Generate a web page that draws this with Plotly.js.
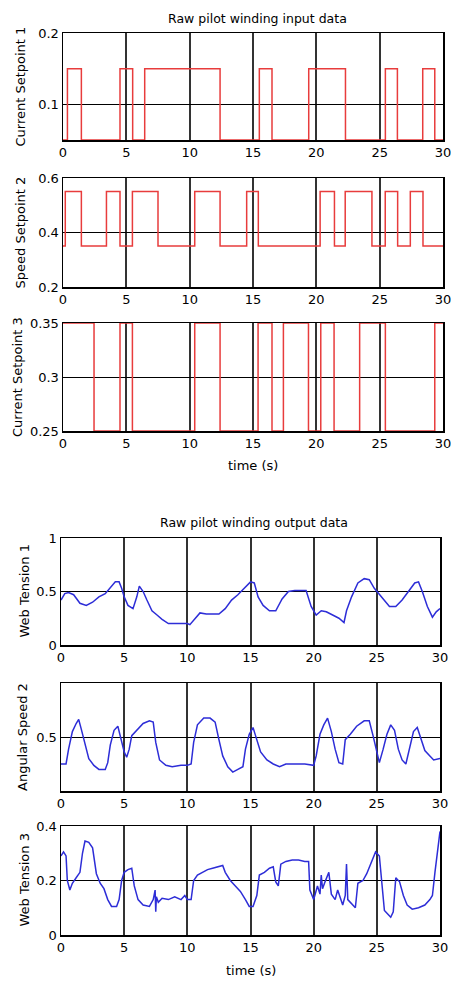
<!DOCTYPE html>
<html>
<head>
<meta charset="utf-8">
<script src="https://cdn.plot.ly/plotly-3.0.1.min.js"></script>
<style>
html,body{margin:0;padding:0;background:#fff;}
#chart{width:451px;height:981px;}
</style>
</head>
<body>
<div id="chart"></div>
<script>
// ---- Input data (step signals: switch times and held values) ----
const cs1Times  = [0, 0.35, 1.45, 4.5, 5.5, 6.45, 12.4, 15.5, 16.5, 19.4, 22.3, 25.45, 26.4, 28.4, 29.35, 30];
const cs1Values = [0.05, 0.15, 0.05, 0.15, 0.05, 0.15, 0.05, 0.15, 0.05, 0.15, 0.05, 0.15, 0.05, 0.15, 0.05, 0.05];

const ss2Times  = [0, 0.18, 1.45, 3.43, 4.5, 5.48, 7.5, 10.4, 12.4, 14.5, 15.42, 20.3, 21.43, 22.28, 24.39, 25.44, 26.42, 27.42, 28.42, 30];
const ss2Values = [0.35, 0.55, 0.35, 0.55, 0.35, 0.55, 0.35, 0.55, 0.35, 0.55, 0.35, 0.55, 0.35, 0.55, 0.35, 0.55, 0.35, 0.55, 0.35, 0.35];

const cs3Times  = [0, 2.45, 4.5, 5.48, 10.4, 12.4, 15.4, 16.5, 17.4, 19.38, 20.35, 21.4, 23.42, 25.45, 29.35, 30];
const cs3Values = [0.35, 0.25, 0.35, 0.25, 0.35, 0.25, 0.35, 0.25, 0.35, 0.25, 0.35, 0.25, 0.35, 0.25, 0.35, 0.35];

// ---- Output data ----
const wt1Times  = [0,0.3,0.6,1,1.5,2,2.5,3,3.5,4,4.3,4.6,4.8,5,5.3,5.7,6,6.2,6.5,6.8,7.2,7.6,8,8.5,9,9.5,10,10.2,10.6,11,11.5,12,12.5,13,13.5,14,14.5,15,15.3,15.6,16,16.5,17,17.5,18,18.5,19,19.4,19.8,20.2,20.6,21,21.5,22,22.4,22.6,23,23.5,24,24.4,24.8,25.2,25.5,26,26.5,27,27.5,28,28.3,28.6,29,29.4,29.7,30];
const wt1Values = [0.42,0.48,0.49,0.47,0.39,0.37,0.40,0.45,0.48,0.55,0.59,0.59,0.53,0.45,0.37,0.34,0.45,0.55,0.50,0.42,0.32,0.28,0.24,0.20,0.20,0.20,0.20,0.19,0.25,0.30,0.29,0.29,0.29,0.34,0.42,0.47,0.53,0.59,0.58,0.45,0.37,0.32,0.32,0.43,0.50,0.51,0.51,0.51,0.36,0.28,0.32,0.31,0.28,0.25,0.21,0.32,0.45,0.58,0.62,0.61,0.53,0.47,0.43,0.36,0.36,0.42,0.50,0.58,0.59,0.50,0.36,0.26,0.31,0.34];

const as2Times  = [0,0.4,0.6,0.9,1.2,1.4,1.6,1.9,2.2,2.6,3,3.5,3.7,3.9,4.2,4.5,4.7,5,5.2,5.4,5.6,6,6.5,7,7.3,7.5,7.8,8.3,8.8,9.5,10,10.3,10.5,10.8,11.3,11.8,12.2,12.5,12.8,13.2,13.6,14,14.4,14.6,14.9,15.2,15.4,15.8,16.3,16.8,17.3,17.8,18.5,19.3,20,20.2,20.5,20.8,21.1,21.4,21.7,22,22.3,22.5,22.9,23.4,24,24.4,24.7,25,25.2,25.5,25.8,26.1,26.4,26.7,27,27.3,27.6,27.9,28.2,28.5,28.8,29.2,29.5,30];
const as2Values = [0.30,0.30,0.41,0.54,0.60,0.63,0.56,0.44,0.34,0.29,0.26,0.26,0.31,0.44,0.55,0.58,0.51,0.39,0.35,0.41,0.51,0.55,0.60,0.62,0.61,0.46,0.33,0.29,0.28,0.29,0.29,0.30,0.46,0.59,0.64,0.64,0.61,0.48,0.36,0.28,0.24,0.26,0.28,0.41,0.52,0.57,0.51,0.39,0.33,0.30,0.28,0.30,0.30,0.30,0.29,0.36,0.52,0.59,0.64,0.54,0.41,0.31,0.30,0.48,0.52,0.58,0.62,0.62,0.51,0.39,0.31,0.41,0.52,0.59,0.55,0.41,0.33,0.30,0.41,0.54,0.57,0.48,0.40,0.36,0.33,0.34];

const wt3Times  = [0,0.2,0.4,0.5,0.7,0.9,1.2,1.5,1.7,1.9,2.2,2.5,2.8,3.1,3.4,3.7,4,4.4,4.6,4.8,5,5.3,5.6,5.8,6.1,6.5,7,7.3,7.45,7.5,7.55,7.7,8,8.5,9,9.5,9.8,10,10.3,10.5,10.8,11.2,11.6,12,12.4,12.8,13,13.4,13.8,14.2,14.6,14.9,15.2,15.5,15.7,16.1,16.5,16.8,17,17.2,17.4,17.8,18.3,18.8,19.3,19.6,19.7,20,20.3,20.5,20.6,20.7,20.9,21.2,21.4,21.7,21.9,22.1,22.3,22.5,22.6,22.7,23,23.3,23.5,23.9,24.2,24.6,24.9,25.2,25.4,25.6,25.9,26.1,26.3,26.5,26.8,27.1,27.4,27.8,28.3,28.8,29.2,29.4,29.6,29.8,30];
const wt3Values = [0.29,0.305,0.29,0.20,0.165,0.19,0.21,0.23,0.30,0.345,0.34,0.32,0.225,0.19,0.17,0.13,0.105,0.105,0.13,0.20,0.23,0.24,0.245,0.18,0.13,0.11,0.105,0.13,0.165,0.085,0.14,0.12,0.135,0.13,0.14,0.13,0.145,0.13,0.13,0.20,0.22,0.23,0.24,0.245,0.25,0.255,0.23,0.20,0.18,0.16,0.13,0.105,0.105,0.145,0.22,0.23,0.245,0.25,0.195,0.18,0.26,0.27,0.275,0.275,0.27,0.27,0.165,0.13,0.18,0.15,0.22,0.17,0.195,0.23,0.15,0.13,0.165,0.14,0.11,0.145,0.26,0.13,0.115,0.10,0.19,0.20,0.225,0.27,0.305,0.29,0.20,0.09,0.075,0.065,0.085,0.21,0.195,0.145,0.11,0.095,0.10,0.11,0.13,0.145,0.23,0.30,0.38];

const xTickVals = [0, 5, 10, 15, 20, 25, 30];

// ---- Layout ----
const W = 451, H = 981;
const FONT = "DejaVu Sans, Liberation Sans, Arial, sans-serif";
function yd(top, bottom){ return [1 - bottom/H, 1 - top/H]; }
function xd(l, r){ return [l/W, r/W]; }

const panels = [
  {x: cs1Times, y: cs1Values, color: 'rgb(232,60,60)', shape: 'hv', xdom: xd(63,443), ydom: yd(33,140), range: [0.05,0.2], tv: [0.1,0.2], tt: ['0.1','0.2'], label: 'Current Setpoint 1', lx: 20},
  {x: ss2Times, y: ss2Values, color: 'rgb(232,60,60)', shape: 'hv', xdom: xd(63,443), ydom: yd(178,287), range: [0.2,0.6], tv: [0.2,0.4,0.6], tt: ['0.2','0.4','0.6'], label: 'Speed Setpoint 2', lx: 20},
  {x: cs3Times, y: cs3Values, color: 'rgb(232,60,60)', shape: 'hv', xdom: xd(63,443), ydom: yd(323,431), range: [0.25,0.35], tv: [0.25,0.3,0.35], tt: ['0.25','0.3','0.35'], label: 'Current Setpoint 3', lx: 17},
  {x: wt1Times, y: wt1Values, color: 'rgb(45,45,215)', shape: 'linear', xdom: xd(61,440), ydom: yd(538,645), range: [0,1], tv: [0,0.5,1], tt: ['0','0.5','1'], label: 'Web Tension 1', lx: 24},
  {x: as2Times, y: as2Values, color: 'rgb(45,45,215)', shape: 'linear', xdom: xd(61,440), ydom: yd(683,791), range: [0.1,0.9], tv: [0.5], tt: ['0.5'], label: 'Angular Speed 2', lx: 22},
  {x: wt3Times, y: wt3Values, color: 'rgb(45,45,215)', shape: 'linear', xdom: xd(61,440), ydom: yd(826,935), range: [0,0.4], tv: [0,0.2,0.4], tt: ['0','0.2','0.4'], label: 'Web Tension 3', lx: 24}
];

const data = [];
const layout = {
  width: W, height: H,
  margin: {l:0, r:0, t:0, b:0},
  paper_bgcolor: '#fff', plot_bgcolor: '#fff',
  showlegend: false,
  font: {family: FONT, size: 13, color: '#000'},
  annotations: []
};

panels.forEach((p, i) => {
  const n = i + 1;
  const xk = n === 1 ? 'x' : 'x' + n;
  const yk = n === 1 ? 'y' : 'y' + n;
  data.push({
    x: p.x, y: p.y, type: 'scatter', mode: 'lines',
    line: {color: p.color, width: 1.5, shape: p.shape},
    xaxis: xk, yaxis: yk, hoverinfo: 'skip'
  });
  layout['xaxis' + (n === 1 ? '' : n)] = {
    domain: p.xdom, anchor: yk, range: [0, 30],
    tickvals: xTickVals, ticktext: xTickVals.map(String),
    showgrid: true, gridcolor: '#333', gridwidth: 2,
    zeroline: false, showline: true, mirror: true, linecolor: '#000', linewidth: 1.5,
    ticks: '', tickfont: {family: FONT, size: 13, color: '#000'},
    ticklabeloverflow: 'allow',
    layer: 'below traces', fixedrange: true
  };
  layout['yaxis' + (n === 1 ? '' : n)] = {
    domain: p.ydom, anchor: xk, range: p.range,
    tickvals: p.tv, ticktext: p.tt,
    showgrid: true, gridcolor: '#000', gridwidth: 1,
    zeroline: false, showline: true, mirror: true, linecolor: '#000', linewidth: 1.5,
    ticks: '', tickfont: {family: FONT, size: 13, color: '#000'},
    ticklabeloverflow: 'allow',
    layer: 'below traces', fixedrange: true
  };
  layout.annotations.push({
    text: p.label, textangle: -90, xref: 'paper', yref: 'paper',
    x: p.lx / W, y: (p.ydom[0] + p.ydom[1]) / 2, xanchor: 'center', yanchor: 'middle',
    showarrow: false, font: {family: FONT, size: 13, color: '#000'}
  });
});

layout.annotations.push(
  {text: 'Raw pilot winding input data', xref: 'paper', yref: 'paper', x: 257/W, y: 1 - 18/H, xanchor: 'center', yanchor: 'middle', showarrow: false, font: {family: FONT, size: 12.5, color: '#000'}},
  {text: 'time (s)', xref: 'paper', yref: 'paper', x: 253/W, y: 1 - 465/H, xanchor: 'center', yanchor: 'middle', showarrow: false, font: {family: FONT, size: 13, color: '#000'}},
  {text: 'Raw pilot winding output data', xref: 'paper', yref: 'paper', x: 254/W, y: 1 - 522/H, xanchor: 'center', yanchor: 'middle', showarrow: false, font: {family: FONT, size: 12.5, color: '#000'}},
  {text: 'time (s)', xref: 'paper', yref: 'paper', x: 251/W, y: 1 - 970/H, xanchor: 'center', yanchor: 'middle', showarrow: false, font: {family: FONT, size: 13, color: '#000'}}
);

Plotly.newPlot('chart', data, layout, {staticPlot: true, displayModeBar: false});
</script>
</body>
</html>
